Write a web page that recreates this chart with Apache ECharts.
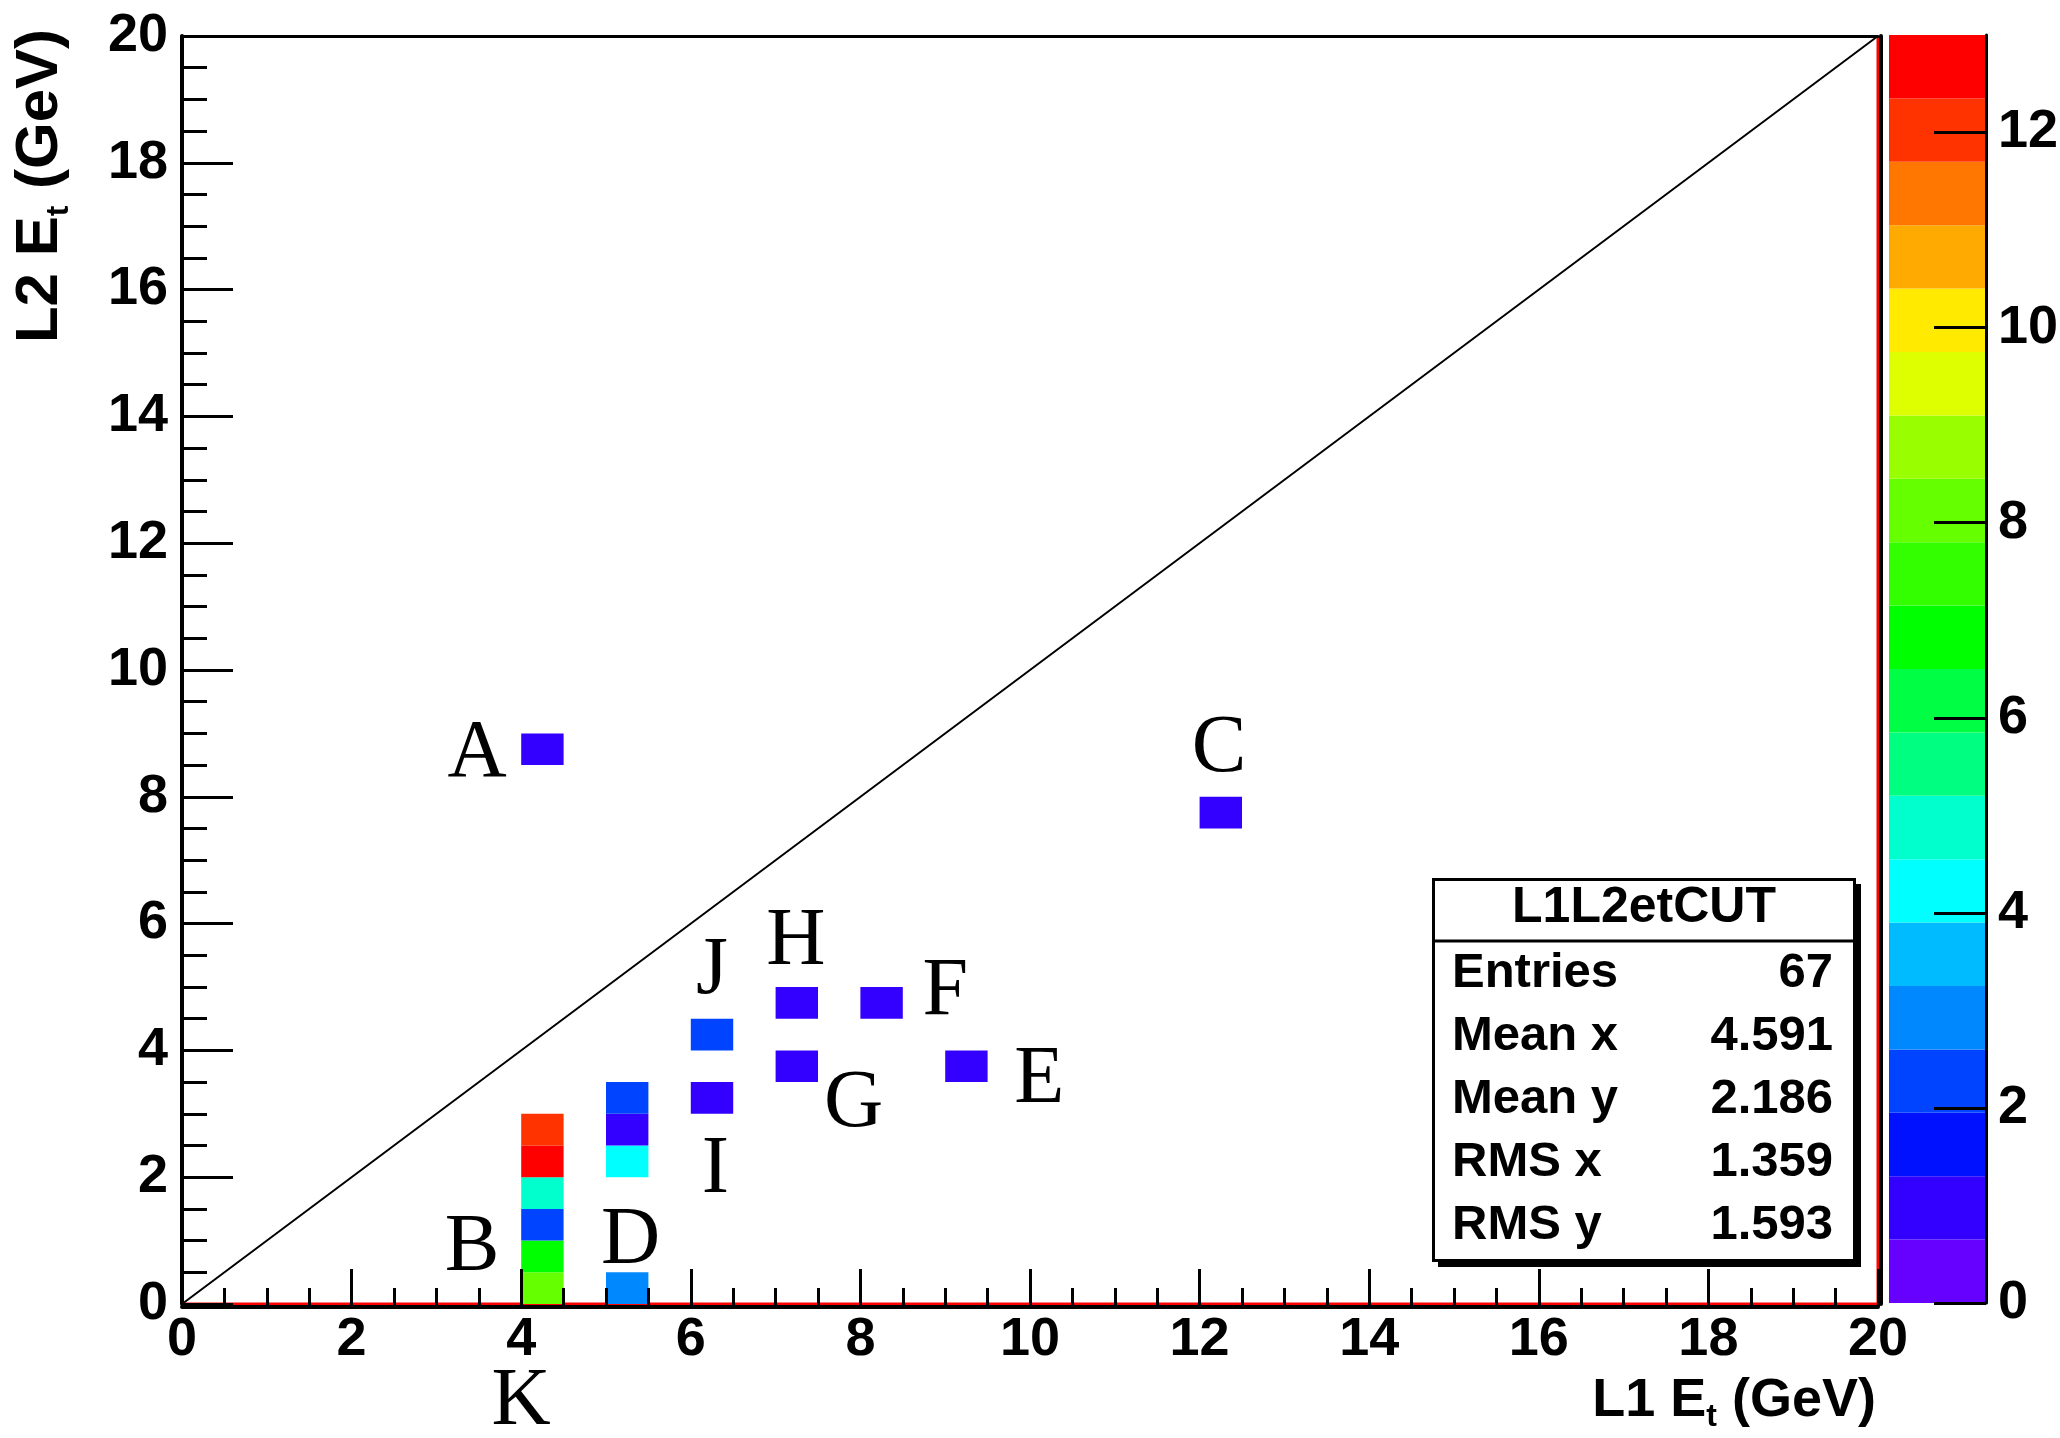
<!DOCTYPE html>
<html>
<head>
<meta charset="utf-8">
<script src="https://cdn.jsdelivr.net/npm/echarts@6/dist/echarts.min.js"></script>
<style>
html,body{margin:0;padding:0;background:#ffffff;}
#chart{width:2060px;height:1438px;}
</style>
</head>
<body>
<div id="chart"></div>
<script>
// ---------------- data ----------------
const axisTicks = [0, 2, 4, 6, 8, 10, 12, 14, 16, 18, 20];
const zTicks = [0, 2, 4, 6, 8, 10, 12];
const binSize = 0.5;
// lower-left corner of each filled bin and its count
const cellX     = [4, 4,   4, 4,   4,  4,   5, 5, 5,   5, 6, 6, 7,   7,   8,   9,   4,   12];
const cellY     = [0, 0.5, 1, 1.5, 2,  2.5, 0, 2, 2.5, 3, 3, 4, 3.5, 4.5, 4.5, 3.5, 8.5, 7.5];
const cellCount = [8, 7,   2, 5,   13, 12,  3, 4, 1,   2, 1, 2, 1,   1,   1,   1,   1,   1];
// annotation letters, placed in data coordinates
const letters = ['A', 'B', 'C', 'D', 'E', 'F', 'G', 'H', 'I', 'J', 'K'];
const letterX = [3.48, 3.42, 12.23, 5.29, 10.11, 9.00, 7.92, 7.24, 6.29, 6.25, 4.00];
const letterY = [8.66, 0.88, 8.75, 0.98, 3.53, 4.92, 3.15, 5.71, 2.10, 5.24, -1.56];
const diagonal = [[0, 0], [20, 20]];
const histName = 'L1L2etCUT';
const statNames = ['Entries', 'Mean x', 'Mean y', 'RMS x', 'RMS y'];
const statValues = ['67', '4.591', '2.186', '1.359', '1.593'];

// ---------------- style ----------------
const palette = ['#6600ff', '#3300ff', '#0011ff', '#0044ff', '#0088ff', '#00bbff', '#00ffff',
  '#00ffcc', '#00ff80', '#00ff44', '#00ff00', '#33ff00', '#66ff00', '#99ff00', '#ddff00',
  '#ffea00', '#ffaa00', '#ff7700', '#ff3300', '#ff0000'];
const zMax = Math.max(...cellCount);
const SANS = "'Liberation Sans', Arial, sans-serif";
const SERIF = "'Liberation Serif', 'Times New Roman', serif";

const cells = cellX.map((x, i) => [x, cellY[i], cellCount[i]]);
const bands = palette.map((c, i) => [i * zMax / palette.length, (i + 1) * zMax / palette.length, i]);
const letterData = letters.map((l, i) => [letterX[i], letterY[i], l]);

function colorOf(n) {
  return palette[Math.min(palette.length - 1, Math.floor(n / zMax * palette.length))];
}

const chart = echarts.init(document.getElementById('chart'), null, {renderer: 'canvas'});

const G = {left: 182, top: 36, width: 1696, height: 1268};
const CB = {left: 1889, top: 35, width: 97, height: 1268};

const tickLabel = {fontFamily: SANS, fontWeight: 'bold', fontSize: 54, color: '#000'};

const option = {
  backgroundColor: '#ffffff',
  animation: false,
  grid: [
    {left: G.left, top: G.top, width: G.width, height: G.height, containLabel: false, outerBoundsMode: 'none'},
    {left: CB.left, top: CB.top, width: CB.width, height: CB.height, containLabel: false, outerBoundsMode: 'none'}
  ],
  xAxis: [
    {
      gridIndex: 0, type: 'value', position: 'bottom', min: 0, max: 20, interval: 2, offset: 3, z: 10,
      axisLine: {show: true, onZero: false, lineStyle: {color: '#000', width: 4}},
      axisTick: {show: true, inside: true, length: 38, lineStyle: {color: '#000', width: 3}},
      minorTick: {show: true, splitNumber: 4, length: 19, lineStyle: {color: '#000', width: 3}},
      axisLabel: Object.assign({margin: 6}, tickLabel),
      splitLine: {show: false}, minorSplitLine: {show: false}
    },
    {
      gridIndex: 0, type: 'value', position: 'top', min: 0, max: 20, z: 10,
      axisLine: {show: true, onZero: false, lineStyle: {color: '#000', width: 3}},
      axisTick: {show: false}, axisLabel: {show: false}, splitLine: {show: false}
    },
    {
      gridIndex: 1, type: 'value', min: 0, max: 1, show: false
    }
  ],
  yAxis: [
    {
      gridIndex: 0, type: 'value', position: 'left', min: 0, max: 20, interval: 2, z: 10,
      axisLine: {show: true, onZero: false, lineStyle: {color: '#000', width: 4}},
      axisTick: {show: true, inside: true, length: 51, lineStyle: {color: '#000', width: 3}},
      minorTick: {show: true, splitNumber: 4, length: 25, lineStyle: {color: '#000', width: 3}},
      axisLabel: Object.assign({margin: 14}, tickLabel),
      splitLine: {show: false}, minorSplitLine: {show: false}
    },
    {
      gridIndex: 0, type: 'value', position: 'right', min: 0, max: 20, offset: 3, z: 10,
      axisLine: {show: true, onZero: false, lineStyle: {color: '#000', width: 4}},
      axisTick: {show: false}, axisLabel: {show: false}, splitLine: {show: false}
    },
    {
      gridIndex: 1, type: 'value', position: 'right', min: 0, max: zMax, interval: 2, z: 10,
      axisLine: {show: true, onZero: false, lineStyle: {color: '#000', width: 3}},
      axisTick: {show: true, inside: true, length: 52, customValues: zTicks, lineStyle: {color: '#000', width: 3}},
      axisLabel: Object.assign({margin: 12, customValues: zTicks}, tickLabel),
      splitLine: {show: false}
    }
  ],
  series: [
    {
      name: 'frame', type: 'line', xAxisIndex: 0, yAxisIndex: 0, z: 1, clip: false, silent: true,
      symbol: 'none', data: [[0, 0], [20, 0], [20, 20]],
      lineStyle: {color: '#ff0000', width: 3}
    },
    {
      name: 'cells', type: 'custom', xAxisIndex: 0, yAxisIndex: 0, z: 3, silent: true,
      data: cells,
      encode: {x: 0, y: 1},
      renderItem: function (params, api) {
        const x = api.value(0), y = api.value(1), n = api.value(2);
        const p0 = api.coord([x, y + binSize]);
        const p1 = api.coord([x + binSize, y]);
        return {
          type: 'rect',
          shape: {x: p0[0], y: p0[1], width: p1[0] - p0[0], height: p1[1] - p0[1]},
          style: {fill: colorOf(n), stroke: null}
        };
      }
    },
    {
      name: 'diagonal', type: 'line', xAxisIndex: 0, yAxisIndex: 0, z: 4, silent: true,
      symbol: 'none', data: diagonal, lineStyle: {color: '#000', width: 2}
    },
    {
      name: 'letters', type: 'scatter', xAxisIndex: 0, yAxisIndex: 0, z: 6, clip: false, silent: true,
      symbolSize: 0, data: letterData,
      itemStyle: {opacity: 1},
      label: {
        show: true, position: 'inside', formatter: p => p.value[2],
        fontFamily: SERIF, fontSize: 82, fontWeight: 'normal', color: '#000', opacity: 1,
        textBorderWidth: 0, align: 'center', verticalAlign: 'middle'
      }
    },
    {
      name: 'colorbar', type: 'custom', xAxisIndex: 2, yAxisIndex: 2, z: 3, silent: true,
      data: bands,
      renderItem: function (params, api) {
        const lo = api.value(0), hi = api.value(1), i = api.value(2);
        const p0 = api.coord([0, hi]);
        const p1 = api.coord([1, lo]);
        return {
          type: 'rect',
          shape: {x: p0[0], y: p0[1], width: p1[0] - p0[0], height: p1[1] - p0[1]},
          style: {fill: palette[i], stroke: null}
        };
      }
    }
  ],
  graphic: [
    {
      type: 'text', x: 1876, y: 1401, z: 20, silent: true,
      style: {
        text: '{m|L1 E}{s|t}{m| (GeV)}', align: 'right', verticalAlign: 'middle',
        rich: {
          m: {fontFamily: SANS, fontWeight: 'bold', fontSize: 54, lineHeight: 64, fill: '#000'},
          s: {fontFamily: SANS, fontWeight: 'bold', fontSize: 32, lineHeight: 16, verticalAlign: 'bottom', fill: '#000'}
        }
      }
    },
    {
      type: 'text', x: 40, y: 29, rotation: Math.PI / 2, z: 20, silent: true,
      style: {
        text: '{m|L2 E}{s|t}{m| (GeV)}', align: 'right', verticalAlign: 'middle',
        rich: {
          m: {fontFamily: SANS, fontWeight: 'bold', fontSize: 60, lineHeight: 70, fill: '#000'},
          s: {fontFamily: SANS, fontWeight: 'bold', fontSize: 32, lineHeight: 16, verticalAlign: 'bottom', fill: '#000'}
        }
      }
    },
    {
      type: 'group', z: 30, silent: true,
      children: [
        {type: 'rect', shape: {x: 1438, y: 884, width: 423, height: 383}, style: {fill: '#000'}},
        {type: 'rect', shape: {x: 1433.5, y: 879.5, width: 421, height: 381}, style: {fill: '#fff', stroke: '#000', lineWidth: 3}},
        {type: 'line', shape: {x1: 1433, y1: 941, x2: 1855, y2: 941}, style: {stroke: '#000', lineWidth: 3}},
        {type: 'text', x: 1644, y: 908, style: {text: histName, font: "bold 50px 'Liberation Sans', Arial, sans-serif", fill: '#000', align: 'center', verticalAlign: 'middle'}}
      ].concat(statNames.map((n, i) => ({
        type: 'text', x: 1452, y: 973 + i * 63.2,
        style: {text: n, font: "bold 49px 'Liberation Sans', Arial, sans-serif", fill: '#000', align: 'left', verticalAlign: 'middle'}
      }))).concat(statValues.map((v, i) => ({
        type: 'text', x: 1833, y: 973 + i * 63.2,
        style: {text: v, font: "bold 49px 'Liberation Sans', Arial, sans-serif", fill: '#000', align: 'right', verticalAlign: 'middle'}
      })))
    }
  ]
};
chart.setOption(option);
</script>
</body>
</html>
